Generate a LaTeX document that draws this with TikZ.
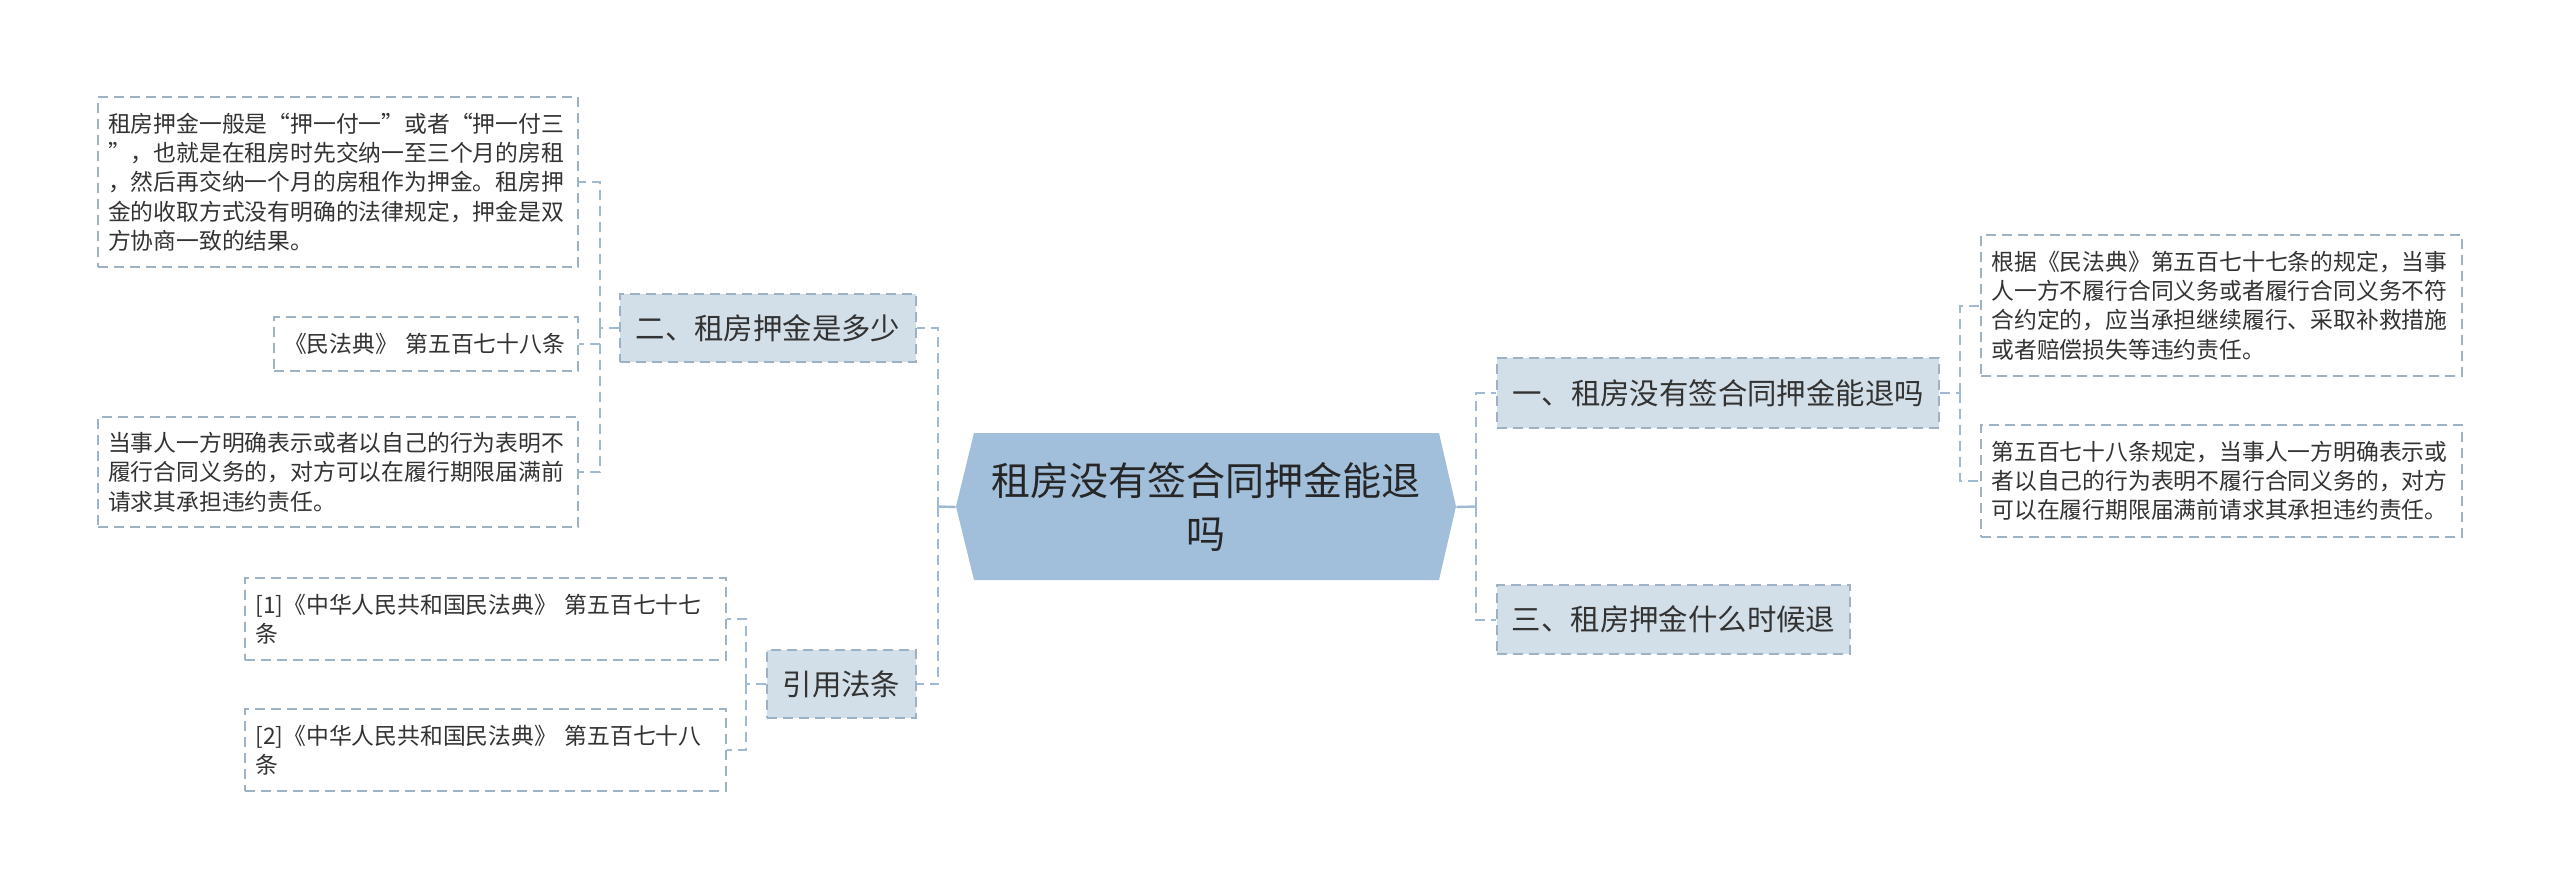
\documentclass[tikz,border=0pt]{standalone}
\usepackage{fontspec}
\setmainfont{Noto Sans CJK SC}
\usetikzlibrary{backgrounds}
\definecolor{rootC}{RGB}{161,190,218}
\definecolor{topicC}{RGB}{211,223,232}
\definecolor{bordC}{RGB}{158,178,198}
\definecolor{lineC}{RGB}{160,186,212}
\definecolor{txtC}{RGB}{51,51,51}
\begin{document}
\begin{tikzpicture}[x=0.5pt,y=-0.5pt,
  box/.style={draw=bordC, dash pattern=on 5pt off 3pt, line width=0.9pt, inner sep=0pt, text=txtC},
  leaf/.style={box, fill=white, font=\fontsize{11.4pt}{14.65pt}\selectfont, align=left},
  topic/.style={box, fill=topicC, font=\fontsize{14.7pt}{17pt}\selectfont, inner xsep=7.5pt},
  conn/.style={draw=lineC, line width=1pt, dash pattern=on 5pt off 3pt},
  rootline/.style={draw=lineC, line width=1.2pt},
]
\useasboundingbox (0,0) rectangle (2560,889);
\begin{scope}[on background layer]
\fill[white] (0,0) rectangle (2560,889);
\end{scope}

% root
\node[inner sep=0pt, minimum width=250pt, minimum height=73.5pt, align=center,
  font=\fontsize{19.5pt}{26.5pt}\selectfont, text=black!85] (root) at (1206,507) {租房没有签合同押金能退\\吗};
\begin{scope}[on background layer]
\fill[rootC] (956,506.5) -- (974,433) -- (1439,433) -- (1456,506.5) -- (1439,580) -- (974,580) -- cycle;
\end{scope}

% topics
\node[topic, minimum width=148pt, minimum height=34pt] (B2) at (768,328) {二、租房押金是多少};
\node[topic, minimum width=74.5pt, minimum height=34pt] (B4) at (841.5,684) {引用法条};
\node[topic, minimum width=221pt, minimum height=35pt] (B1) at (1718,393) {一、租房没有签合同押金能退吗};
\node[topic, minimum width=176.5pt, minimum height=34.5pt] (B3) at (1673.5,619.5) {三、租房押金什么时候退};

% left leaves
\node[leaf, minimum width=240pt, minimum height=85pt, text width=230pt] (L1) at (338,182)
 {租房押金一般是“押一付一”或者“押一付三\\”，也就是在租房时先交纳一至三个月的房租\\，然后再交纳一个月的房租作为押金。租房押\\金的收取方式没有明确的法律规定，押金是双\\方协商一致的结果。};
\node[leaf, minimum width=152pt, minimum height=27pt, text width=142pt] (L2) at (426,344)
 {《民法典》 第五百七十八条};
\node[leaf, minimum width=240pt, minimum height=55pt, text width=230pt] (L3) at (338,472)
 {当事人一方明确表示或者以自己的行为表明不\\履行合同义务的，对方可以在履行期限届满前\\请求其承担违约责任。};

% references
\node[leaf, minimum width=240.5pt, minimum height=41pt, text width=230pt] (R1) at (485.5,619)
 {[1]《中华人民共和国民法典》 第五百七十七\\条};
\node[leaf, minimum width=240.5pt, minimum height=41pt, text width=230pt] (R2) at (485.5,750)
 {[2]《中华人民共和国民法典》 第五百七十八\\条};

% right leaves
\node[leaf, minimum width=240.5pt, minimum height=70.5pt, text width=230pt] (RL1) at (2221.5,305.5)
 {根据《民法典》第五百七十七条的规定，当事\\人一方不履行合同义务或者履行合同义务不符\\合约定的，应当承担继续履行、采取补救措施\\或者赔偿损失等违约责任。};
\node[leaf, minimum width=240.5pt, minimum height=56pt, text width=230pt] (RL2) at (2221.5,481)
 {第五百七十八条规定，当事人一方明确表示或\\者以自己的行为表明不履行合同义务的，对方\\可以在履行期限届满前请求其承担违约责任。};

% junctions
\coordinate (jL) at (938,506.5);
\coordinate (jR) at (1476,506.5);
\coordinate (j2) at (600,328);
\coordinate (j4) at (746,684);
\coordinate (j1) at (1960,393);

% connectors
\draw[rootline] (root.west) -- (jL);
\draw[rootline] (root.east) -- (jR);
\draw[conn] (jL) |- (B2.east);
\draw[conn] (jL) |- (B4.east);
\draw[conn] (jR) |- (B1.west);
\draw[conn] (jR) |- (B3.west);

\draw[conn] (B2.west) -- (j2);
\draw[conn] (j2) |- (L1.east);
\draw[conn] (j2) |- (L2.east);
\draw[conn] (j2) |- (L3.east);

\draw[conn] (B4.west) -- (j4);
\draw[conn] (j4) |- (R1.east);
\draw[conn] (j4) |- (R2.east);

\draw[conn] (B1.east) -- (j1);
\draw[conn] (j1) |- (RL1.west);
\draw[conn] (j1) |- (RL2.west);
\end{tikzpicture}
\end{document}
